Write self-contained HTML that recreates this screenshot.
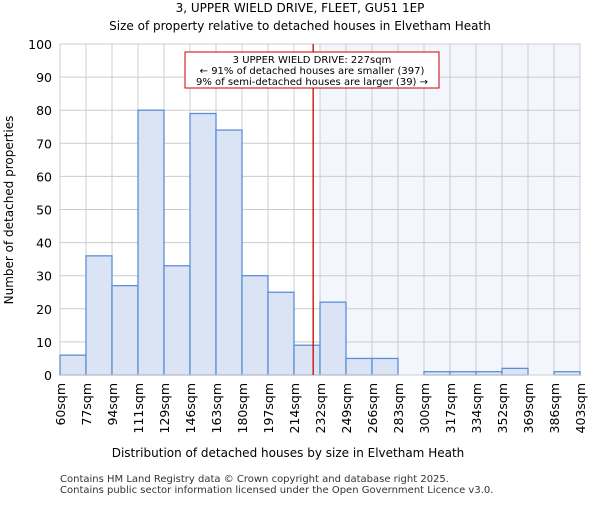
<!DOCTYPE html>
<html><head><meta charset="utf-8"><style>body{margin:0;background:#fff}svg{font-family:"DejaVu Sans","Liberation Sans",sans-serif}</style></head>
<body>
<svg id="c" width="600" height="500">
<text x="300" y="12" text-anchor="middle" font-size="12">3, UPPER WIELD DRIVE, FLEET, GU51 1EP</text>
<text x="300" y="30" text-anchor="middle" font-size="12">Size of property relative to detached houses in Elvetham Heath</text>
<g id="plot"></g>
<text x="288" y="457" text-anchor="middle" font-size="12">Distribution of detached houses by size in Elvetham Heath</text>
<text transform="translate(13,210) rotate(-90)" text-anchor="middle" font-size="12">Number of detached properties</text>
<text x="60" y="482" font-size="10" fill="#333">Contains HM Land Registry data © Crown copyright and database right 2025.</text>
<text x="60" y="493" font-size="10" fill="#333">Contains public sector information licensed under the Open Government Licence v3.0.</text>
</svg>
<script>
const binLabels=["60sqm","77sqm","94sqm","111sqm","129sqm","146sqm","163sqm","180sqm","197sqm","214sqm","232sqm","249sqm","266sqm","283sqm","300sqm","317sqm","334sqm","352sqm","369sqm","386sqm","403sqm"];
const counts=[6,36,27,80,33,79,74,30,25,9,22,5,5,0,1,1,1,2,0,1];
const yTicks=[0,10,20,30,40,50,60,70,80,90,100];
const subjectSize=227;
const minSize=60, maxSize=403;
const X0=60,X1=580,Y0=375,Y1=44;
const NS="http://www.w3.org/2000/svg";
const g=document.getElementById('plot');
const n=counts.length;
const bx=i=>X0+(X1-X0)*i/n;
const y=v=>Y0-(Y0-Y1)*v/100;
const xs=s=>X0+(X1-X0)*(s-minSize)/(maxSize-minSize);
function mk(t,a){const e=document.createElementNS(NS,t);for(const k in a)e.setAttribute(k,a[k]);g.appendChild(e);return e;}
const bg=mk('rect',{x:X0,y:Y1,width:X1-X0,height:Y0-Y1,fill:'#fff'});


let si=0;while(si<n&&bx(si)<xs(subjectSize))si++;
const sh=mk('rect',{x:bx(si),y:Y1,width:X1-bx(si),height:Y0-Y1,fill:'#f3f6fd'});


yTicks.forEach(t=>{
const l=mk('line',{x1:X0,x2:X1,y1:y(t),y2:y(t),stroke:'#ccc'});


const tx=mk('text',{x:X0-8,y:y(t)+5,'text-anchor':'end','font-size':12.5});tx.textContent=t;


});
binLabels.forEach((b,i)=>{
const l=mk('line',{x1:bx(i),x2:bx(i),y1:Y1,y2:Y0,stroke:'#ccc'});


const tx=mk('text',{transform:`translate(${bx(i)+5},${Y0+8}) rotate(-90)`,'text-anchor':'end','font-size':12.5});tx.textContent=b;


});
counts.forEach((c,i)=>{
if(c<=0)return;
const r=mk('rect',{x:bx(i),y:y(c),width:bx(i+1)-bx(i),height:Y0-y(c),fill:'#dae4f4',stroke:'#5b8fd6','stroke-width':1.3});


});
const ax=mk('line',{x1:X0,x2:X1,y1:Y0,y2:Y0,stroke:'#ccc'});


const rl=mk('line',{x1:xs(subjectSize),x2:xs(subjectSize),y1:Y1,y2:Y0,stroke:'#c00','stroke-width':1.3});


const box=mk('rect',{x:185,y:52,width:254,height:36,fill:'#fff',stroke:'#c00','stroke-width':1});


["3 UPPER WIELD DRIVE: 227sqm","← 91% of detached houses are smaller (397)","9% of semi-detached houses are larger (39) →"].forEach((s,i)=>{
const t=mk('text',{x:312,y:63+i*11,'text-anchor':'middle','font-size':10});t.textContent=s;


});
</script>
</body></html>
